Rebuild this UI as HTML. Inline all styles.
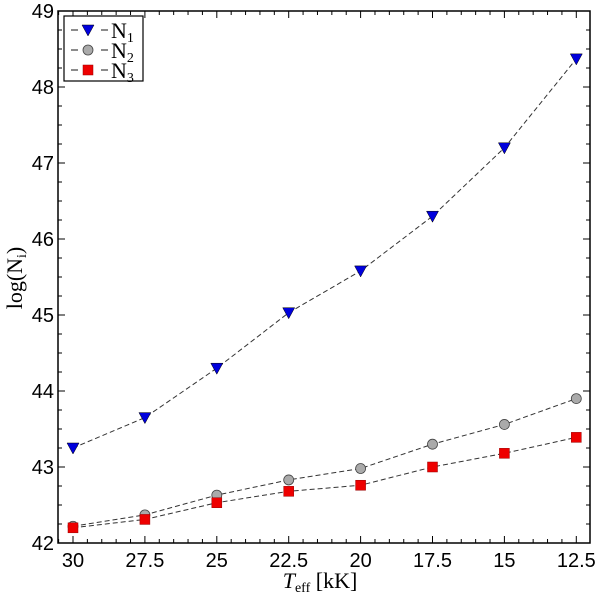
<!DOCTYPE html><html><head><style>body{margin:0;background:#fff}svg{display:block}text{font-family:"Liberation Sans",sans-serif}</style></head><body>
<svg width="600" height="596" xmlns="http://www.w3.org/2000/svg" id="s"></svg>
<script>
const s=document.getElementById('s');let h='';
const L=58,R=590,T=11,B=543;
const X=v=>73+(30-v)/2.5*71.9, Y=v=>B-(v-42)*76;
h+=`<rect x="${L}" y="${T}" width="${R-L}" height="${B-T}" fill="none" stroke="#000" stroke-width="1.5"/>`;
for(let v=42;v<=49.001;v+=0.25){const y=Y(v),big=Math.abs(v-Math.round(v))<1e-6,l=big?7:4;
h+=`<line x1="${L}" x2="${L+l}" y1="${y}" y2="${y}" stroke="#000"/><line x1="${R}" x2="${R-l}" y1="${y}" y2="${y}" stroke="#000"/>`;
if(big)h+=`<text x="${L-4}" y="${y+7}" font-size="20" text-anchor="end">${Math.round(v)}</text>`;}
for(let v=31;v>=12;v-=0.5){const x=X(v);if(x<L||x>R)continue;const big=Math.abs(v/2.5-Math.round(v/2.5))<1e-6,l=big?7:4;
h+=`<line x1="${x}" x2="${x}" y1="${B}" y2="${B-l}" stroke="#000"/><line x1="${x}" x2="${x}" y1="${T}" y2="${T+l}" stroke="#000"/>`;
if(big)h+=`<text x="${x}" y="${B+24}" font-size="20" text-anchor="middle">${v}</text>`;}
const xs=[30,27.5,25,22.5,20,17.5,15,12.5];
const n1=[43.25,43.65,44.3,45.03,45.58,46.3,47.2,48.37],n2=[42.22,42.37,42.63,42.83,42.98,43.3,43.56,43.9],n3=[42.2,42.31,42.53,42.68,42.76,43.0,43.18,43.39];
function line(d){return `<polyline fill="none" stroke="#333" stroke-width="1" stroke-dasharray="5,3" points="${d.map((v,i)=>X(xs[i])+','+Y(v)).join(' ')}"/>`;}
h+=line(n1)+line(n2)+line(n3);
const tri=(x,y)=>`<polygon points="${x-6},${y-5} ${x+6},${y-5} ${x},${y+6}" fill="#0000dd" stroke="#000" stroke-width="0.5"/>`;
const cir=(x,y)=>`<circle cx="${x}" cy="${y}" r="5" fill="#aaa" stroke="#444" stroke-width="0.8"/>`;
const sq=(x,y)=>`<rect x="${x-5}" y="${y-5}" width="10" height="10" fill="#e00" stroke="#900" stroke-width="0.5"/>`;
n2.forEach((v,i)=>h+=cir(X(xs[i]),Y(v)));n3.forEach((v,i)=>h+=sq(X(xs[i]),Y(v)));n1.forEach((v,i)=>h+=tri(X(xs[i]),Y(v)));
h+=`<rect x="64" y="16" width="79" height="65" fill="#fff" stroke="#000" stroke-width="1.2"/>`;
[[30,tri,'1'],[50,cir,'2'],[70,sq,'3']].forEach(([y,f,n])=>{h+=`<line x1="71" x2="78" y1="${y}" y2="${y}" stroke="#666" stroke-width="1.5"/><line x1="101" x2="108" y1="${y}" y2="${y}" stroke="#666" stroke-width="1.5"/>`+f(88,y)+`<text x="111" y="${y+8}" style="font-family:'Liberation Serif',serif" font-size="22">N<tspan font-size="14" dy="4">${n}</tspan></text>`;});
h+=`<text x="320" y="588" text-anchor="middle" font-size="22" style="font-family:'Liberation Serif',serif"><tspan font-style="italic">T</tspan><tspan font-size="14" dy="4">eff</tspan><tspan dy="-4"> [kK]</tspan></text>`;
h+=`<text transform="translate(22,278) rotate(-90)" text-anchor="middle" font-size="22" style="font-family:'Liberation Serif',serif">log(N<tspan font-size="14" dy="4">i</tspan><tspan dy="-4">)</tspan></text>`;
s.innerHTML=h;
</script></body></html>
